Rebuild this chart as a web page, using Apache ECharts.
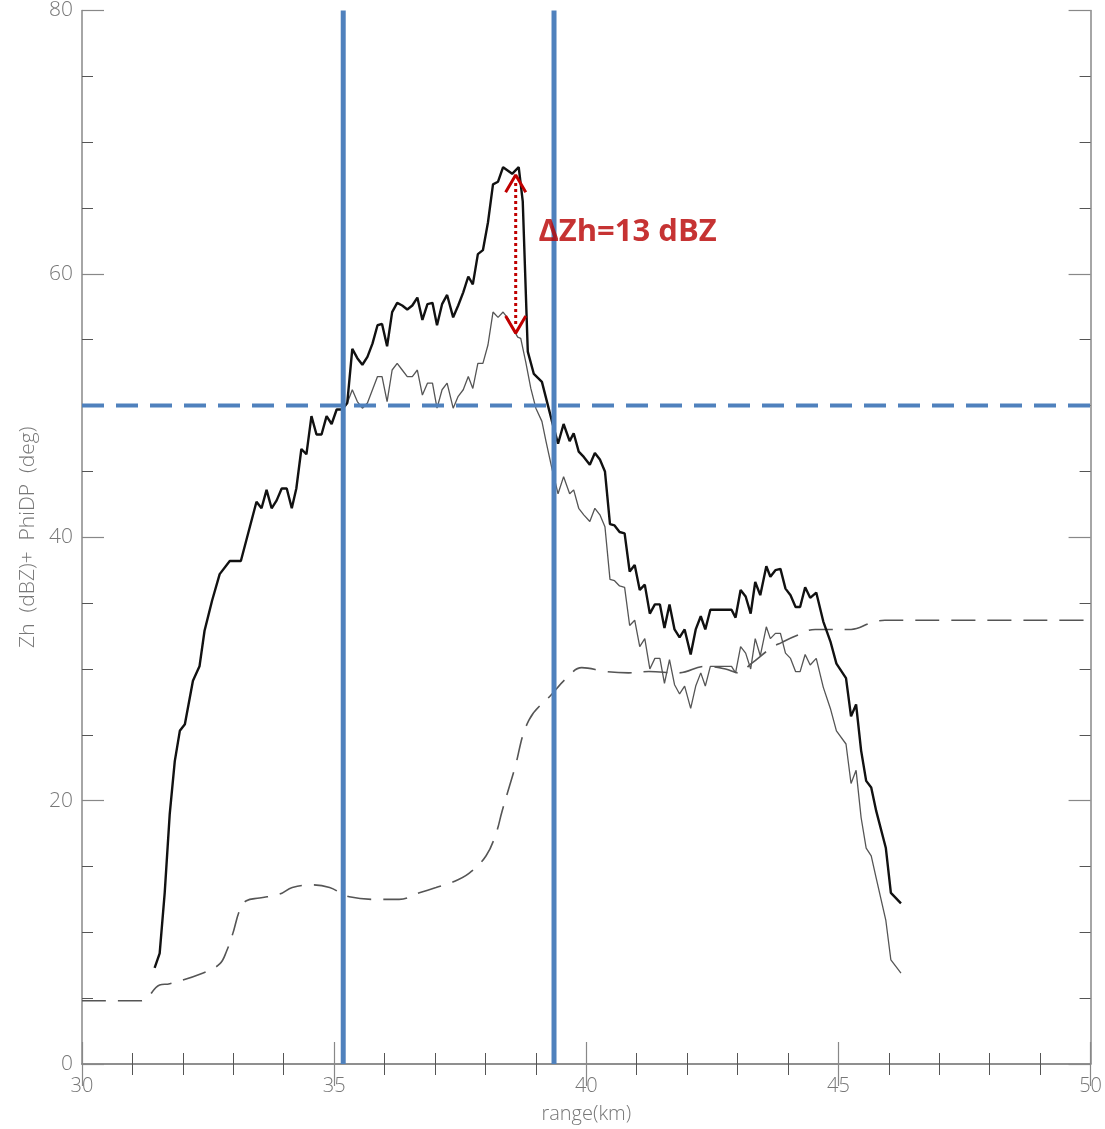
<!DOCTYPE html>
<html>
<head>
<meta charset="utf-8">
<script src="https://cdn.jsdelivr.net/npm/echarts@6/dist/echarts.min.js"></script>
<style>
  html, body { margin: 0; padding: 0; background: #fff; }
  #chart { width: 1105px; height: 1129px; }
</style>
</head>
<body>
<div id="chart"></div>
<script>
// thick black: measured Zh (range km, dBZ)
const zhMeasured = [
  [31.44, 7.3], [31.54, 8.4], [31.64, 13.0], [31.74, 19.0], [31.84, 23.0], [31.94, 25.3], [32.04, 25.8],
  [32.2, 29.1], [32.33, 30.2], [32.43, 32.9], [32.58, 35.2], [32.73, 37.2], [32.93, 38.2], [33.15, 38.2],
  [33.46, 42.7], [33.56, 42.2], [33.66, 43.6], [33.76, 42.2], [33.86, 42.8], [33.96, 43.7], [34.06, 43.7],
  [34.16, 42.2], [34.25, 43.7], [34.35, 46.7], [34.45, 46.3], [34.55, 49.2], [34.65, 47.8], [34.75, 47.8],
  [34.85, 49.2], [34.95, 48.6], [35.05, 49.7], [35.16, 49.7], [35.26, 50.2], [35.36, 54.3], [35.46, 53.6],
  [35.56, 53.1], [35.66, 53.7], [35.76, 54.7], [35.86, 56.1], [35.95, 56.2], [36.05, 54.5], [36.15, 57.1],
  [36.25, 57.8], [36.35, 57.6], [36.45, 57.3], [36.55, 57.6], [36.65, 58.2], [36.75, 56.5], [36.85, 57.7],
  [36.95, 57.8], [37.04, 56.1], [37.14, 57.7], [37.24, 58.4], [37.36, 56.7], [37.46, 57.6], [37.56, 58.6],
  [37.66, 59.8], [37.75, 59.2], [37.85, 61.5], [37.95, 61.8], [38.05, 63.9], [38.15, 66.8], [38.25, 67.0],
  [38.35, 68.1], [38.53, 67.6], [38.66, 68.1], [38.74, 65.5], [38.84, 54.1], [38.96, 52.4], [39.12, 51.8],
  [39.22, 50.3], [39.32, 48.8], [39.44, 47.1], [39.55, 48.6], [39.67, 47.3], [39.75, 47.9], [39.85, 46.5],
  [39.95, 46.1], [40.07, 45.5], [40.17, 46.4], [40.27, 45.9], [40.37, 45.0], [40.47, 41.0], [40.56, 40.9],
  [40.66, 40.4], [40.76, 40.3], [40.86, 37.4], [40.96, 37.9], [41.06, 36.0], [41.16, 36.4], [41.26, 34.2],
  [41.36, 34.9], [41.46, 34.9], [41.55, 33.1], [41.65, 34.9], [41.75, 33.0], [41.85, 32.4], [41.95, 33.0],
  [42.07, 31.1], [42.17, 33.0], [42.27, 34.0], [42.36, 33.0], [42.46, 34.5], [42.66, 34.5], [42.88, 34.5],
  [42.96, 33.9], [43.06, 36.0], [43.16, 35.5], [43.26, 34.2], [43.35, 36.6], [43.45, 35.6], [43.57, 37.8],
  [43.65, 37.0], [43.75, 37.5], [43.85, 37.6], [43.95, 36.1], [44.05, 35.6], [44.15, 34.7], [44.24, 34.7],
  [44.34, 36.2], [44.44, 35.4], [44.56, 35.8], [44.7, 33.6], [44.84, 32.1], [44.96, 30.4], [45.15, 29.3],
  [45.25, 26.4], [45.35, 27.3], [45.45, 23.8], [45.55, 21.5], [45.65, 21.0], [45.75, 19.2], [45.94, 16.4],
  [46.04, 13.0], [46.24, 12.2]
];

// thin grey: lower Zh curve
const zhLower = [
  [35.16, 49.7], [35.26, 50.2], [35.36, 51.2], [35.46, 50.3], [35.56, 49.8], [35.66, 50.2], [35.76, 51.2],
  [35.86, 52.2], [35.95, 52.2], [36.05, 50.3], [36.15, 52.7], [36.25, 53.2], [36.35, 52.7], [36.45, 52.2],
  [36.55, 52.2], [36.65, 52.7], [36.75, 50.8], [36.85, 51.7], [36.95, 51.7], [37.04, 49.8], [37.14, 51.2],
  [37.24, 51.7], [37.36, 49.8], [37.46, 50.7], [37.56, 51.2], [37.66, 52.2], [37.75, 51.3], [37.85, 53.2],
  [37.95, 53.2], [38.05, 54.6], [38.15, 57.1], [38.25, 56.7], [38.35, 57.1], [38.45, 56.6], [38.55, 55.8],
  [38.64, 55.2], [38.7, 55.1], [38.8, 53.3], [38.9, 51.3], [39.0, 49.8], [39.12, 48.8], [39.2, 47.3],
  [39.32, 45.2], [39.44, 43.3], [39.55, 44.6], [39.67, 43.3], [39.75, 43.6], [39.85, 42.2], [39.95, 41.7],
  [40.07, 41.2], [40.17, 42.2], [40.27, 41.7], [40.37, 40.8], [40.47, 36.8], [40.56, 36.7], [40.66, 36.3],
  [40.76, 36.2], [40.86, 33.3], [40.96, 33.7], [41.06, 31.7], [41.16, 32.3], [41.26, 30.0], [41.36, 30.8],
  [41.46, 30.8], [41.55, 28.9], [41.65, 30.7], [41.75, 28.8], [41.85, 28.1], [41.95, 28.7], [42.07, 27.0],
  [42.17, 28.7], [42.27, 29.7], [42.36, 28.7], [42.46, 30.2], [42.66, 30.2], [42.88, 30.2], [42.96, 29.7],
  [43.06, 31.7], [43.16, 31.2], [43.26, 30.0], [43.35, 32.3], [43.45, 31.0], [43.57, 33.2], [43.65, 32.3],
  [43.75, 32.7], [43.85, 32.7], [43.95, 31.2], [44.05, 30.8], [44.15, 29.8], [44.24, 29.8], [44.34, 31.1],
  [44.44, 30.3], [44.56, 30.8], [44.7, 28.6], [44.84, 27.0], [44.96, 25.3], [45.15, 24.3], [45.25, 21.3],
  [45.35, 22.3], [45.45, 18.7], [45.55, 16.4], [45.65, 15.8], [45.75, 14.1], [45.94, 10.9], [46.04, 7.9],
  [46.24, 6.9]
];

// dashed: PhiDP (deg)
const phidp = [
  [30.0, 4.8], [31.17, 4.8], [31.54, 6.0], [31.74, 6.1], [32.39, 6.9], [32.73, 7.6], [32.87, 8.6],
  [32.99, 9.9], [33.13, 11.7], [33.26, 12.4], [33.52, 12.6], [33.92, 12.9], [34.17, 13.4], [34.57, 13.6],
  [34.91, 13.4], [35.3, 12.7], [35.9, 12.5], [36.29, 12.5], [36.69, 13.0], [37.02, 13.4], [37.34, 13.8],
  [37.68, 14.5], [38.01, 15.8], [38.21, 17.5], [38.33, 19.2], [38.57, 22.3], [38.86, 26.1], [39.32, 28.1],
  [39.61, 29.3], [39.91, 30.1], [40.39, 29.8], [40.84, 29.7], [41.24, 29.8], [41.83, 29.7], [42.36, 30.2],
  [42.76, 30.0], [43.02, 29.7], [43.27, 30.4], [43.67, 31.6], [43.87, 32.0], [44.15, 32.5], [44.54, 33.0],
  [45.25, 33.0], [45.65, 33.5], [45.92, 33.7], [50.0, 33.7]
];

const xTicks = [30, 35, 40, 45, 50];
const yTicks = [0, 20, 40, 60, 80];
const markerRanges = [35.18, 39.36];
const thresholdZh = 50;
const deltaArrow = { x: 38.6, top: 67.5, bottom: 55.5 };
const deltaLabel = { x: 39.05, y: 63.2, text: 'ΔZh=13 dBZ' };

const blue = '#4F81BD';
const red = '#C00000';
const axisGrey = '#888';
const labelGrey = '#777';
const font = '"Open Sans", "DejaVu Sans", sans-serif';

const chart = echarts.init(document.getElementById('chart'));

function axisCommon () {
  return {
    axisLine: { show: true, lineStyle: { color: axisGrey, width: 1.5 } },
    axisTick: { show: true, inside: true, length: 22, lineStyle: { color: axisGrey, width: 1.2 } },
    minorTick: { show: true, length: 11, lineStyle: { color: '#555', width: 1 } },
    splitLine: { show: false }
  };
}

const xBase = {
  type: 'value',
  min: xTicks[0],
  max: xTicks[xTicks.length - 1],
  interval: 5,
  ...axisCommon()
};

const yBase = {
  type: 'value',
  min: yTicks[0],
  max: yTicks[yTicks.length - 1],
  interval: 20,
  ...axisCommon()
};

const chevron = (apexY, dir) => [
  [deltaArrow.x - 0.2, apexY - dir * 1.3],
  [deltaArrow.x, apexY],
  [deltaArrow.x + 0.2, apexY - dir * 1.3]
];

const option = {
  animation: false,
  backgroundColor: '#fff',
  grid: { left: 82, right: 12, top: 8, bottom: 65 },
  xAxis: [
    {
      ...xBase,
      position: 'bottom',
      name: 'range(km)',
      nameLocation: 'middle',
      nameGap: 40,
      nameTextStyle: { color: labelGrey, fontSize: 20, fontFamily: font, fontWeight: 300 },
      axisLabel: { color: labelGrey, fontSize: 20, fontFamily: font, fontWeight: 300, margin: 12 },
      minorTick: { ...xBase.minorTick, splitNumber: 5 }
    },
    {
      ...xBase,
      position: 'top',
      axisLabel: { show: false },
      minorTick: { ...xBase.minorTick, splitNumber: 5 }
    }
  ],
  yAxis: [
    {
      ...yBase,
      position: 'left',
      name: 'Zh  (dBZ)+  PhiDP  (deg)',
      nameLocation: 'middle',
      nameGap: 43,
      nameRotate: 90,
      nameTextStyle: { color: labelGrey, fontSize: 21, fontFamily: font, fontWeight: 300 },
      axisLabel: { color: labelGrey, fontSize: 21, fontFamily: font, fontWeight: 300, margin: 9 },
      minorTick: { ...yBase.minorTick, splitNumber: 4 }
    },
    {
      ...yBase,
      position: 'right',
      axisLabel: { show: false },
      minorTick: { ...yBase.minorTick, splitNumber: 4 }
    }
  ],
  series: [
    {
      name: 'PhiDP',
      type: 'line',
      data: phidp,
      smooth: 0.4,
      showSymbol: false,
      lineStyle: { color: '#555', width: 1.6, type: [24, 12] },
      z: 2
    },
    {
      name: 'Zh lower',
      type: 'line',
      data: zhLower,
      showSymbol: false,
      lineStyle: { color: '#555', width: 1.3 },
      z: 3
    },
    {
      name: 'Zh',
      type: 'line',
      data: zhMeasured,
      showSymbol: false,
      lineStyle: { color: '#111', width: 2.4 },
      z: 4
    },
    ...markerRanges.map(r => ({
      type: 'line',
      data: [[r, yTicks[0]], [r, yTicks[yTicks.length - 1]]],
      showSymbol: false,
      lineStyle: { color: blue, width: 5 },
      z: 6
    })),
    {
      type: 'line',
      data: [[xTicks[0], thresholdZh], [xTicks[xTicks.length - 1], thresholdZh]],
      showSymbol: false,
      lineStyle: { color: blue, width: 4, type: [22, 12] },
      z: 6
    },
    {
      type: 'line',
      data: [[deltaArrow.x, deltaArrow.top - 0.6], [deltaArrow.x, deltaArrow.bottom + 0.6]],
      showSymbol: false,
      lineStyle: { color: red, width: 3, type: [3, 3] },
      z: 7
    },
    {
      type: 'line',
      data: chevron(deltaArrow.top, 1),
      showSymbol: false,
      lineStyle: { color: red, width: 3 },
      z: 7
    },
    {
      type: 'line',
      data: chevron(deltaArrow.bottom, -1),
      showSymbol: false,
      lineStyle: { color: red, width: 3 },
      z: 7
    },
    {
      type: 'scatter',
      data: [[deltaLabel.x, deltaLabel.y]],
      symbolSize: 0,
      label: {
        show: true,
        position: 'right',
        distance: 0,
        formatter: deltaLabel.text,
        color: '#B80000',
        fontSize: 31,
        fontWeight: 'bold',
        fontFamily: '"Open Sans", "Noto Sans", sans-serif'
      },
      z: 8
    }
  ]
};

chart.setOption(option);
</script>
</body>
</html>
